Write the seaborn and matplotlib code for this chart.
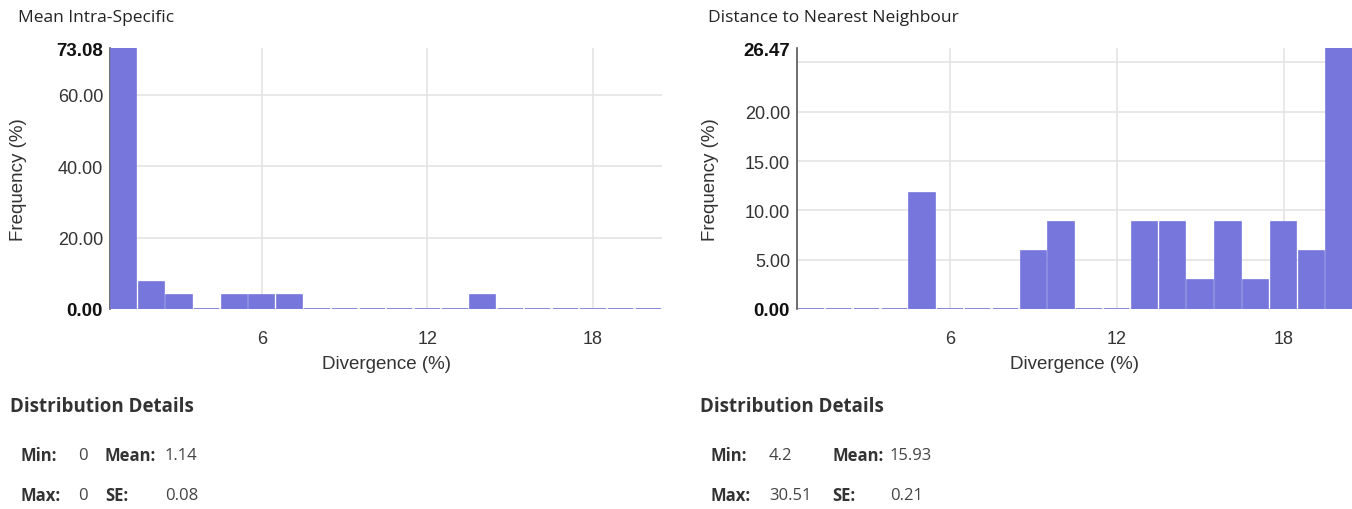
import numpy as np
import pandas as pd
import seaborn as sns
import matplotlib.pyplot as plt

# --- Data ---
bin_centers = list(range(1, 21))
intra_freq = [73.08, 7.69, 3.85, 0, 3.85, 3.85, 3.85, 0, 0, 0,
              0, 0, 0, 3.85, 0, 0, 0, 0, 0, 0]
nn_freq = [0, 0, 0, 0, 11.76, 0, 0, 0, 5.88, 8.82,
           0, 0, 8.82, 8.82, 2.94, 8.82, 2.94, 8.82, 5.88, 26.47]
intra_yticks = [0, 20, 40, 60]
nn_yticks = [0, 5, 10, 15, 20, 25]
x_ticks = [6, 12, 18]
titles = ["Mean Intra-Specific", "Distance to Nearest Neighbour"]
details = [
    [("Min:", "0", "Mean:", "1.14"), ("Max:", "0", "SE:", "0.08")],
    [("Min:", "4.2", "Mean:", "15.93"), ("Max:", "30.51", "SE:", "0.21")],
]

# --- Style ---
sns.set_theme(style="white")
plt.rcParams['font.family'] = ['Liberation Sans', 'DejaVu Sans']
bar_color = "#7676DC"
text_color = "#333333"

W, H = 1352, 510
fig = plt.figure(figsize=(W / 100, H / 100), dpi=100)


def px_box(x0, x1, ytop, ybot):
    return [x0 / W, 1 - ybot / H, (x1 - x0) / W, (ybot - ytop) / H]


panels = [
    (px_box(110, 662, 49, 310), intra_freq, intra_yticks, 18, 10, [0, 58, 85, 145]),
    (px_box(797, 1353, 49, 310), nn_freq, nn_yticks, 708, 700, [0, 59, 122, 180]),
]

for i, (box, freq, yticks, title_x, det_x, offs) in enumerate(panels):
    ax = fig.add_axes(box)
    df = pd.DataFrame({"div": bin_centers, "freq": freq})
    sns.barplot(data=df, x="div", y="freq", native_scale=True, width=0.92,
                color=bar_color, saturation=1, edgecolor=bar_color, linewidth=1.2,
                ax=ax, zorder=3)
    top = max(freq)
    ax.set_xlim(0.5, 20.5)
    ax.set_ylim(0, top)

    ticks = yticks + [top]
    labels = [f"{t:.2f}" for t in yticks] + [f"{top:.2f}"]
    if i == 1:
        labels[-2] = ""
    ax.set_yticks(ticks)
    ax.set_yticklabels(labels)
    ylabs = ax.get_yticklabels()
    for lab in ylabs:
        lab.set_fontsize(13)
        lab.set_color(text_color)
    # min and max get emphasis
    for lab in (ylabs[0], ylabs[-1]):
        lab.set_fontsize(13.5)
        lab.set_fontweight("bold")
        lab.set_color("#111111")

    ax.set_xticks(x_ticks)
    ax.set_xticklabels([str(t) for t in x_ticks], fontsize=13, color=text_color)
    ax.tick_params(axis="both", length=0)
    ax.tick_params(axis="y", pad=5)
    ax.tick_params(axis="x", pad=15)

    ax.grid(True, color="#e4e4e4", linewidth=1.2, zorder=0)
    ax.set_axisbelow(True)
    ax.yaxis.get_major_ticks()[-1].gridline.set_visible(False)
    for s in ["top", "right", "bottom"]:
        ax.spines[s].set_visible(False)
    ax.spines["left"].set_color("#555555")
    ax.spines["left"].set_linewidth(1.2)

    ax.set_xlabel("Divergence (%)", fontsize=13.5, color=text_color)
    ax.set_ylabel("Frequency (%)", fontsize=13.5, color=text_color)
    ax.xaxis.set_label_coords(0.5, -0.175)
    ax.yaxis.set_label_coords(-0.15 if i == 0 else -0.14, 0.5)

    fig.text(title_x / W, 1 - 18 / H, titles[i], fontsize=12.5, color="#222222",
             family=["Open Sans", "DejaVu Sans"], va="center", ha="left")
    fig.text(det_x / W, 1 - 407 / H, "Distribution Details", fontsize=13.5,
             fontweight="bold", color="#333333",
             family=["Open Sans", "DejaVu Sans"], va="center", ha="left")

    for row, y in zip(details[i], [456, 496]):
        for j, (txt, off) in enumerate(zip(row, offs)):
            bold = j in (0, 2)
            fig.text((det_x + 10 + off) / W, 1 - y / H, txt, fontsize=12,
                     fontweight="bold" if bold else "normal",
                     color="#333333" if bold else "#444444",
                     family=["Open Sans", "DejaVu Sans"], va="center", ha="left")

fig.savefig("out.png", dpi=100)
